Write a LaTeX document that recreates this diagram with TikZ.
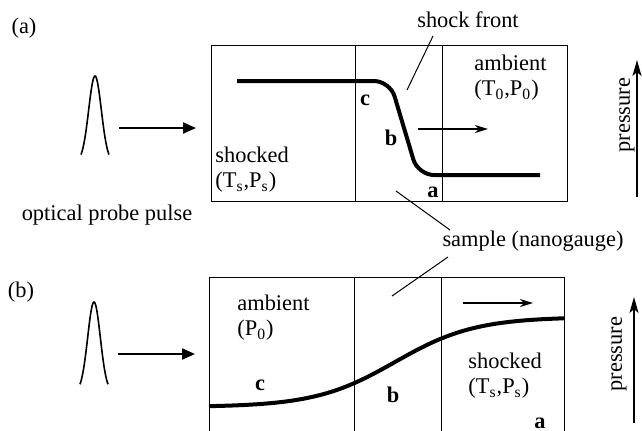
\documentclass[tikz,border=0pt]{standalone}
\usepackage{fontspec}
\setmainfont{Liberation Serif}
\usetikzlibrary{arrows.meta,positioning}

\begin{document}
\begin{tikzpicture}[x=0.5pt, y=-0.5pt, every node/.style={font=\fontsize{11.2}{12.6}\selectfont, inner sep=0pt},
  lbl/.style={align=left, anchor=west},
  pt/.style={font=\fontsize{11.2}{12.6}\selectfont\bfseries},
  box/.style={line width=0.5pt},
  prof/.style={line width=2pt},
  pulse/.style={line width=0.8pt},
  probe/.style={-{Triangle[length=6.5pt,width=5.5pt]}, line width=1pt},
  front/.style={-{Stealth[length=6.5pt,width=4pt,inset=2pt]}, line width=0.6pt},
  press/.style={-{Stealth[length=8pt,width=4.5pt,inset=2pt]}, line width=0.9pt},
  lead/.style={line width=0.5pt}]
\clip (0,0) rectangle (642,430);
% (a) shock front in the sample
\node (tagA) at (24,28) {(a)};
\draw[pulse] plot[domain=-14:14, samples=41, smooth] ({95+\x},{162-86*exp(-\x*\x/80)});
\coordinate (pinA) at (119,128);
\coordinate (poutA) at (196,128);
\draw[probe] (pinA) -- (poutA);
\node (probe) at (107,215) {optical probe pulse};
\draw[box] (211,45) rectangle (567,201);
\draw[box] (355,45) -- (355,201) (442,45) -- (442,201);
\draw[prof, rounded corners=8pt] (237,81) -- (390,81) -- (418,175) -- (540,175);
\node[lbl] (shkA) at (215,170) {shocked\\(T\textsubscript{s},P\textsubscript{s})};
\node[lbl] (ambA) at (474,78) {ambient\\(T\textsubscript{0},P\textsubscript{0})};
\node[pt] (cA) at (365,100) {c};
\node[pt] (bA) at (391,138) {b};
\node[pt] (aA) at (433,192) {a};
\coordinate (moveA) at (418,129);
\coordinate (movedA) at (488,129);
\draw[front] (moveA) -- (movedA);
\node (shfront) at (468,20) {shock front};
\coordinate (frontFoot) at (433,36);
\coordinate (frontTip) at (407,90);
\draw[lead] (frontFoot) -- (frontTip);
\coordinate (pbotA) at (637,197);
\coordinate (ptopA) at (637,60);
\draw[press] (pbotA) -- (ptopA);
\node[rotate=90] (presA) at (627,115) {pressure};
% sample label
\node (sample) at (533,241) {sample (nanogauge)};
\coordinate (sampA) at (396,191);
\coordinate (sampAend) at (450,230);
\coordinate (sampBend) at (448,257);
\coordinate (sampB) at (392,296);
\draw[lead] (sampA) -- (sampAend);
\draw[lead] (sampBend) -- (sampB);
% (b) pressure release
\node (tagB) at (21,292) {(b)};
\draw[pulse] plot[domain=-14:14, samples=41, smooth] ({94+\x},{392-90*exp(-\x*\x/80)});
\coordinate (pinB) at (118,354);
\coordinate (poutB) at (195,354);
\draw[probe] (pinB) -- (poutB);
\draw[box] (209,440) -- (209,277) -- (564,277) -- (564,440);
\draw[box] (354,277) -- (354,440) (441,277) -- (441,440);
\draw[prof] plot[domain=209:564, samples=80, smooth] (\x,{362-45*tanh((\x-395)/80)});
\node[lbl] (ambB) at (237,318) {ambient\\(P\textsubscript{0})};
\node[lbl] (shkB) at (468,376) {shocked\\(T\textsubscript{s},P\textsubscript{s})};
\node[pt] (cB) at (260,385) {c};
\node[pt] (bB) at (393,395) {b};
\node[pt] (aB) at (540,423) {a};
\coordinate (moveB) at (463,303);
\coordinate (movedB) at (533,303);
\draw[front] (moveB) -- (movedB);
\coordinate (pbotB) at (634,423);
\coordinate (ptopB) at (634,297);
\draw[press] (pbotB) -- (ptopB);
\node[rotate=90] (presB) at (619,354) {pressure};
\end{tikzpicture}
\end{document}
